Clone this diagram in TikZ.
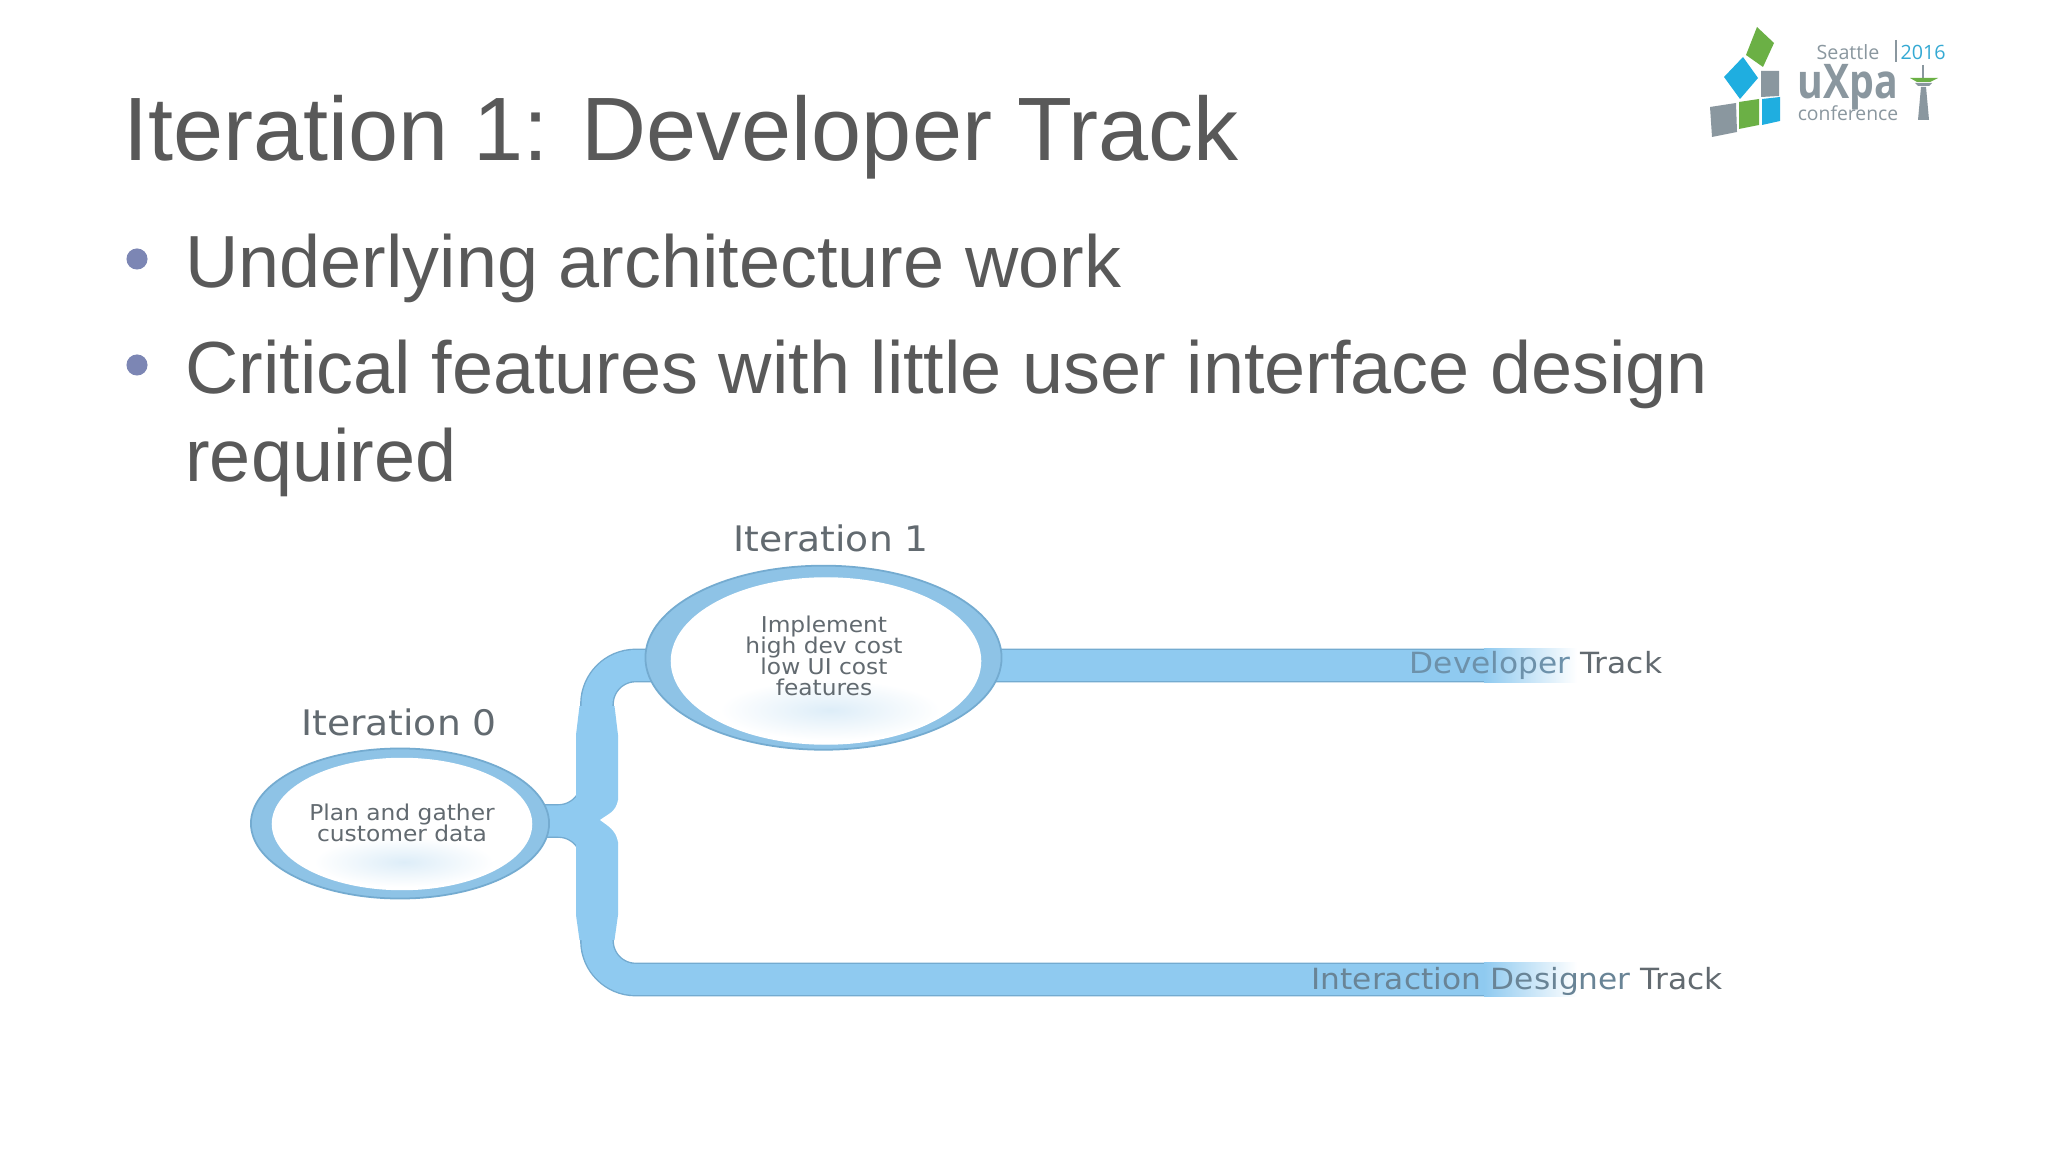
\documentclass[tikz,border=0pt]{standalone}
\usepackage{fontspec}
\setmainfont{Liberation Sans}
\newfontfamily\diagfont[FakeStretch=1.07]{DejaVu Sans}
\newfontfamily\logofont{Open Sans}
\newfontfamily\logobold[FakeStretch=0.82]{Open Sans}
\usetikzlibrary{shapes.geometric,calc,backgrounds}
\newcommand{\bubblefont}{\diagfont\fontsize{6.2pt}{6pt}\selectfont\setlength{\lineskiplimit}{-10pt}}
\definecolor{slidegray}{HTML}{595959}
\definecolor{dotblue}{HTML}{7C86B4}
\definecolor{trackblue}{HTML}{8FCAF0}
\definecolor{trackedgeblue}{HTML}{74ABD0}
\definecolor{rimblue}{HTML}{8EC3E6}
\definecolor{glassblue}{HTML}{DDEDF8}
\definecolor{diaggray}{HTML}{626A70}
\definecolor{logogreen}{HTML}{6BB045}
\definecolor{logoblue}{HTML}{1FAEE0}
\definecolor{logogray}{HTML}{8A979F}
\tikzset{
  slidetext/.style={anchor=base west,inner sep=0pt,text=slidegray,font=\fontsize{21pt}{25pt}\selectfont},
  bulletdot/.style={circle,fill=dotblue,minimum size=6pt,inner sep=0pt},
  trackedge/.style={draw=trackedgeblue,line width=9.6pt,rounded corners=11pt},
  trackfill/.style={draw=trackblue,line width=8.8pt,rounded corners=11pt},
  bubbleout/.style={ellipse,inner sep=0pt,fill=rimblue,draw=trackedgeblue,line width=0.5pt},
  bubblein/.style={ellipse,inner sep=0pt,fill=white,draw=white,line width=0.4pt},
  glassblob/.style={ellipse,inner sep=0pt,inner color=glassblue,outer color=white},
  bubbletext/.style={inner sep=0pt,align=center,text=diaggray,font=\bubblefont},
  iterlabel/.style={inner sep=0pt,text=diaggray,font=\diagfont\fontsize{10pt}{11pt}\selectfont},
  tracklabel/.style={inner sep=0pt,text=diaggray,font=\diagfont\fontsize{8.3pt}{9pt}\selectfont}
}
\begin{document}
\begin{tikzpicture}[x=0.01cm,y=-0.01cm]
  \useasboundingbox (0,0) rectangle (2048,1152);
  % slide text
  \node[slidetext,font=\fontsize{25.6pt}{30pt}\selectfont] (title) at (122.4,161) {Iteration 1: Developer Track};
  \node[bulletdot] (dotone) at (137,259) {};
  \node[slidetext] (lineone) at (184.7,288) {Underlying architecture work};
  \node[bulletdot] (dottwo) at (137,365) {};
  \node[slidetext] (linetwo) at (184.7,393.5) {Critical features with little user interface design};
  \node[slidetext] (linethree) at (184.7,481.5) {required};
  % bubbles
  \node[bubbleout,minimum width=356*0.2845pt,minimum height=184*0.2845pt] (iterone) at (823.5,657.7) {};
  \node[bubbleout,minimum width=298*0.2845pt,minimum height=150*0.2845pt] (iterzero) at (400,823.5) {};
  \node[bubblein,minimum width=309*0.2845pt,minimum height=166*0.2845pt] (iteroneglass) at (826,661) {};
  \node[bubblein,minimum width=259*0.2845pt,minimum height=131*0.2845pt] (iterzeroglass) at (402,824) {};
  \node[glassblob,minimum width=220*0.2845pt,minimum height=60*0.2845pt] (iteroneblob) at (830,710) {};
  \node[glassblob,minimum width=180*0.2845pt,minimum height=50*0.2845pt] (iterzeroblob) at (404,862) {};
  \node[bubbletext] (iteronetext) at (824,656) {Implement\\high dev cost\\low UI cost\\features};
  \node[bubbletext] (iterzerotext) at (402,823) {Plan and gather\\customer data};
  \node[iterlabel] (iteronelabel) at (831,538) {Iteration 1};
  \node[iterlabel] (iterzerolabel) at (399,722) {Iteration 0};
  \coordinate (fork) at (597,821);
  \coordinate (devend) at (1485,665.5);
  \coordinate (desend) at (1485,979.5);
  % tracks go under the bubbles
  \begin{pgfonlayer}{background}
    \fill[white] (0,0) rectangle (2048,1152);
    \foreach \trackstyle in {trackedge,trackfill} {
      \draw[\trackstyle] (iterzero.center |- fork) -- (fork) -- (fork |- devend) -- (devend);
      \draw[\trackstyle] (iterzero.center |- fork) -- (fork) -- (fork |- desend) -- (desend);
    }
    \fill[trackblue] (579.5,706) -- (614.5,706) -- (618,735) -- (618,915) -- (614.5,940) -- (579.5,940) -- (576,915) -- (576,735) -- cycle;
    \shade[left color=trackblue,right color=white] ($(devend)+(-1,-17)$) rectangle ($(devend)+(92,17)$);
    \shade[left color=trackblue,right color=white] ($(desend)+(-1,-17)$) rectangle ($(desend)+(92,17)$);
    \fill[white] (600,820) .. controls (608,814) and (616,812) .. (618,800) -- (622,800) -- (622,842) -- (618,842) .. controls (616,830) and (608,826) .. (600,820) -- cycle;
  \end{pgfonlayer}
  \node[tracklabel] (devlabel) at (1536,665) {\textcolor{trackedgeblue!60!diaggray}{Developer} Track};
  \node[tracklabel] (deslabel) at (1517,981) {\textcolor{trackedgeblue!40!diaggray}{Interaction Designer} Track};
  % logo
  \fill[logogreen] (1757,27) -- (1774,43) -- (1763,67) -- (1746,55) -- cycle;
  \fill[logoblue] (1743,57) -- (1758,78) -- (1740,99) -- (1724,77) -- cycle;
  \fill[logogray] (1761,71) -- (1779,71) -- (1779,96) -- (1761,97) -- cycle;
  \fill[logogray] (1710,107) -- (1736,103) -- (1737,132) -- (1712,137) -- cycle;
  \fill[logogreen] (1739,102) -- (1759,99) -- (1759,125) -- (1739,129) -- cycle;
  \fill[logoblue] (1762,99) -- (1780,97) -- (1780,121) -- (1762,125) -- cycle;
  \node[inner sep=0pt,text=logogray,font=\logofont\fontsize{5.6pt}{6pt}\selectfont] (seattle) at (1848,52) {Seattle};
  \node[inner sep=0pt,text=logoblue!80!logogray,font=\logofont\fontsize{5.6pt}{6pt}\selectfont] (year) at (1923,52) {2016};
  \draw[logogray,line width=0.3pt] (1896,40) -- (1896,62);
  \node[inner sep=0pt,text=logogray,font=\logobold\bfseries\fontsize{13.6pt}{14pt}\selectfont] (uxpa) at (1848,87) {uXpa};
  \node[inner sep=0pt,text=logogray,font=\logofont\fontsize{5.5pt}{7pt}\selectfont] (conf) at (1848,113) {conference};
  \draw[logogray,line width=0.3pt] (1923,65) -- (1923,78);
  \fill[logogreen] (1910,78) -- (1938,78) -- (1930,82) -- (1917,82) -- cycle;
  \fill[logogray] (1915,83) -- (1932,83) -- (1929,86) -- (1918,86) -- cycle;
  \fill[logogray] (1921,87) -- (1926,87) -- (1929,120) -- (1918,120) -- cycle;
\end{tikzpicture}
\end{document}
